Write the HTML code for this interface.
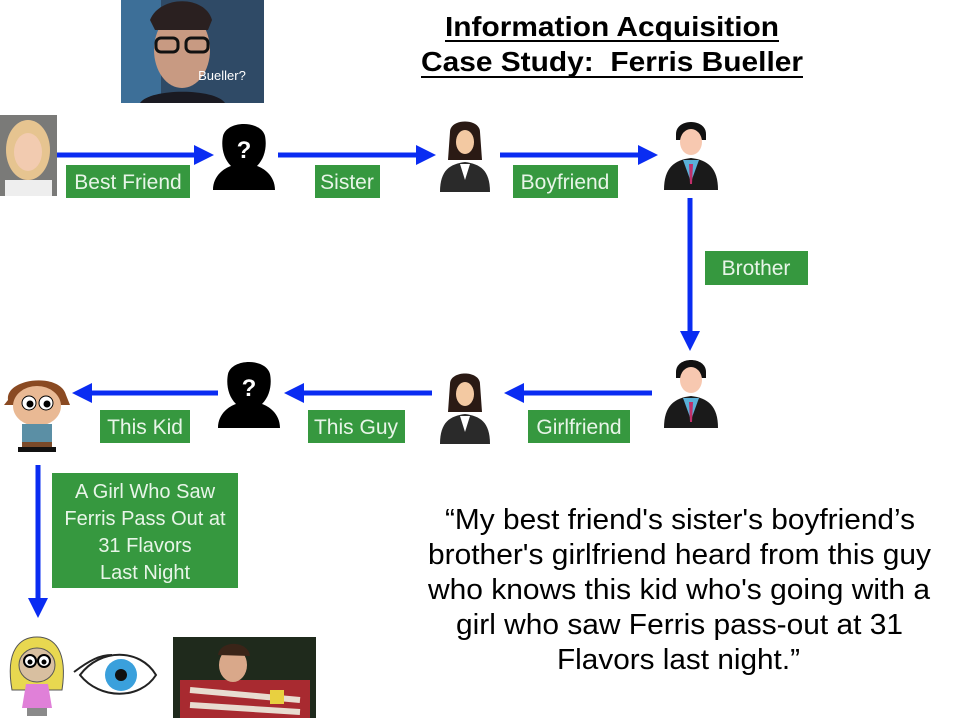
<!DOCTYPE html>
<html><head><meta charset="utf-8"><style>
html,body{margin:0;padding:0;background:#fff;}
svg{display:block;}
text{font-family:"Liberation Sans",Arial,sans-serif;}
</style></head><body>
<svg width="960" height="720" viewBox="0 0 960 720" xmlns="http://www.w3.org/2000/svg">
<defs>
<g id="hood">
 <path d="M4 70 C4 55 16 48 22 46 C14 38 12 26 14 16 C18 0 52 0 56 16 C58 26 56 38 48 46 C54 48 66 55 66 70 Z" fill="#000"/>
 <text x="35" y="38" font-size="24" fill="#fff" text-anchor="middle" font-weight="bold">?</text>
</g>
<g id="woman">
 <path d="M10 12 C10 -2 40 -2 40 12 L42 40 L8 40 Z" fill="#2a1a14"/>
 <ellipse cx="25" cy="22" rx="9" ry="12" fill="#f3c9a2"/>
 <path d="M0 72 C0 50 10 44 25 42 C40 44 50 50 50 72 Z" fill="#2a2a2a"/>
 <path d="M20 44 L25 60 L30 44 Z" fill="#fff"/>
</g>
<g id="man">
 <path d="M14 14 C14 -2 44 -2 44 14 L44 20 L14 20 Z" fill="#111"/>
 <ellipse cx="29" cy="22" rx="11" ry="13" fill="#f7c8b0"/>
 <path d="M2 70 C2 48 12 40 29 38 C46 40 56 48 56 70 Z" fill="#1a1a1a"/>
 <path d="M21 40 L29 62 L37 40 Z" fill="#5ab0d8"/>
 <path d="M27 44 L31 44 L30 64 L28 64 Z" fill="#c0306a"/>
</g>
</defs>

<!-- title -->
<text x="445" y="36" font-size="28" font-weight="bold" textLength="334" lengthAdjust="spacingAndGlyphs">Information Acquisition</text>
<line x1="445" y1="41" x2="779" y2="41" stroke="#000" stroke-width="2"/>
<text x="421" y="71" font-size="28" font-weight="bold" textLength="382" lengthAdjust="spacingAndGlyphs" xml:space="preserve">Case Study:  Ferris Bueller</text>
<line x1="421" y1="77" x2="803" y2="77" stroke="#000" stroke-width="2"/>

<!-- top photo -->
<rect x="121" y="0" width="143" height="103" fill="#2f4a66"/>
<rect x="121" y="0" width="40" height="103" fill="#3d6f98"/>
<ellipse cx="182" cy="50" rx="28" ry="38" fill="#c89a82"/>
<path d="M150 20 C160 -5 205 -5 212 20 L208 30 L155 30 Z" fill="#2a2020"/>
<rect x="156" y="38" width="22" height="14" rx="5" fill="none" stroke="#111" stroke-width="3"/>
<rect x="186" y="38" width="22" height="14" rx="5" fill="none" stroke="#111" stroke-width="3"/>
<path d="M140 103 C150 88 215 88 225 103 Z" fill="#1a1a22"/>
<text x="222" y="80" font-size="13" fill="#fff" text-anchor="middle" font-family="Liberation Serif,serif">Bueller?</text>

<!-- girl photo -->
<rect x="0" y="115" width="57" height="81" fill="#7a7a78"/>
<ellipse cx="28" cy="150" rx="22" ry="30" fill="#e6c490"/>
<ellipse cx="28" cy="152" rx="14" ry="19" fill="#f2cbb0"/>
<rect x="5" y="180" width="47" height="16" fill="#eee"/>

<!-- arrows -->
<g stroke="#0a2cf2" stroke-width="5" fill="none">
 <line x1="57" y1="155" x2="196" y2="155"/>
 <line x1="278" y1="155" x2="418" y2="155"/>
 <line x1="500" y1="155" x2="640" y2="155"/>
 <line x1="690" y1="198" x2="690" y2="333"/>
 <line x1="652" y1="393" x2="522" y2="393"/>
 <line x1="432" y1="393" x2="302" y2="393"/>
 <line x1="218" y1="393" x2="90" y2="393"/>
 <line x1="38" y1="465" x2="38" y2="600"/>
</g>
<g fill="#0a2cf2">
 <path d="M194 145 L214 155 L194 165 Z"/>
 <path d="M416 145 L436 155 L416 165 Z"/>
 <path d="M638 145 L658 155 L638 165 Z"/>
 <path d="M680 331 L690 351 L700 331 Z"/>
 <path d="M524 383 L504 393 L524 403 Z"/>
 <path d="M304 383 L284 393 L304 403 Z"/>
 <path d="M92 383 L72 393 L92 403 Z"/>
 <path d="M28 598 L38 618 L48 598 Z"/>
</g>

<!-- labels -->
<g fill="#36983f">
 <rect x="66" y="165" width="124" height="33"/>
 <rect x="315" y="165" width="65" height="33"/>
 <rect x="513" y="165" width="105" height="33"/>
 <rect x="705" y="251" width="103" height="34"/>
 <rect x="528" y="410" width="102" height="33"/>
 <rect x="308" y="410" width="97" height="33"/>
 <rect x="100" y="410" width="90" height="33"/>
 <rect x="52" y="473" width="186" height="115"/>
</g>
<g fill="#e8f5e8" font-size="21" text-anchor="middle">
 <text x="128" y="189">Best Friend</text>
 <text x="347" y="189">Sister</text>
 <text x="565" y="189">Boyfriend</text>
 <text x="756" y="275">Brother</text>
 <text x="579" y="434">Girlfriend</text>
 <text x="356" y="434">This Guy</text>
 <text x="145" y="434">This Kid</text>
 <text x="145" y="498" font-size="20">A Girl Who Saw</text>
 <text x="145" y="525" font-size="20">Ferris Pass Out at</text>
 <text x="145" y="552" font-size="20">31 Flavors</text>
 <text x="145" y="579" font-size="20">Last Night</text>
</g>

<!-- figures -->
<use href="#hood" x="209" y="120"/>
<use href="#hood" x="214" y="358"/>
<use href="#woman" x="440" y="120"/>
<use href="#woman" x="440" y="372"/>
<use href="#man" x="662" y="120"/>
<use href="#man" x="662" y="358"/>

<!-- kid -->
<g>
 <path d="M8 400 C5 378 60 372 66 395 L70 405 L4 405 Z" fill="#8a4a22"/>
 <ellipse cx="37" cy="406" rx="24" ry="20" fill="#e9b994"/>
 <circle cx="29" cy="403" r="7" fill="#fff" stroke="#000"/><circle cx="30" cy="404" r="3.5" fill="#000"/>
 <circle cx="46" cy="403" r="7" fill="#fff" stroke="#000"/><circle cx="47" cy="404" r="3.5" fill="#000"/>
 <rect x="22" y="424" width="30" height="20" fill="#5b8fa5"/>
 <rect x="22" y="442" width="30" height="6" fill="#7a4a2a"/>
 <rect x="18" y="447" width="38" height="5" fill="#111"/>
</g>

<!-- bottom girl -->
<g>
 <path d="M12 690 C5 650 20 637 37 637 C54 637 68 650 62 690 Z" fill="#e8d850" stroke="#555"/>
 <ellipse cx="37" cy="665" rx="18" ry="17" fill="#d8bfa0" stroke="#555"/>
 <circle cx="30" cy="661" r="6" fill="#fff" stroke="#000" stroke-width="2"/><circle cx="30" cy="662" r="2.5"/>
 <circle cx="44" cy="661" r="6" fill="#fff" stroke="#000" stroke-width="2"/><circle cx="44" cy="662" r="2.5"/>
 <path d="M26 684 L48 684 L52 708 L22 708 Z" fill="#e080d8"/>
 <rect x="27" y="708" width="20" height="8" fill="#8a8a8a"/>
</g>
<!-- eye -->
<g>
 <path d="M80 675 C100 648 140 648 156 675 C140 700 100 700 80 675 Z" fill="#fff" stroke="#222" stroke-width="2"/>
 <circle cx="121" cy="675" r="16" fill="#3aa0dc"/>
 <circle cx="121" cy="675" r="6" fill="#111"/>
 <path d="M74 672 C90 660 100 655 112 655" stroke="#222" stroke-width="2" fill="none"/>
</g>
<!-- ferris photo -->
<rect x="173" y="637" width="143" height="81" fill="#1f2a1c"/>
<rect x="180" y="680" width="130" height="38" fill="#a82a30"/>
<path d="M190 690 L300 700 M190 705 L300 712" stroke="#e8dcd0" stroke-width="6"/>
<ellipse cx="233" cy="665" rx="14" ry="17" fill="#d9a88a"/>
<path d="M218 655 C220 640 248 640 250 656 Z" fill="#3a2418"/>
<rect x="270" y="690" width="14" height="14" fill="#e8d040"/>

<!-- quote -->
<g font-size="29" fill="#000" lengthAdjust="spacingAndGlyphs">
 <text x="445" y="529" textLength="470" lengthAdjust="spacingAndGlyphs">“My best friend's sister's boyfriend’s</text>
 <text x="428" y="564" textLength="503" lengthAdjust="spacingAndGlyphs">brother's girlfriend heard from this guy</text>
 <text x="428" y="599" textLength="502" lengthAdjust="spacingAndGlyphs">who knows this kid who's going with a</text>
 <text x="456" y="634" textLength="447" lengthAdjust="spacingAndGlyphs">girl who saw Ferris pass-out at 31</text>
 <text x="557" y="669" textLength="243" lengthAdjust="spacingAndGlyphs">Flavors last night.”</text>
</g>
</svg>
</body></html>
